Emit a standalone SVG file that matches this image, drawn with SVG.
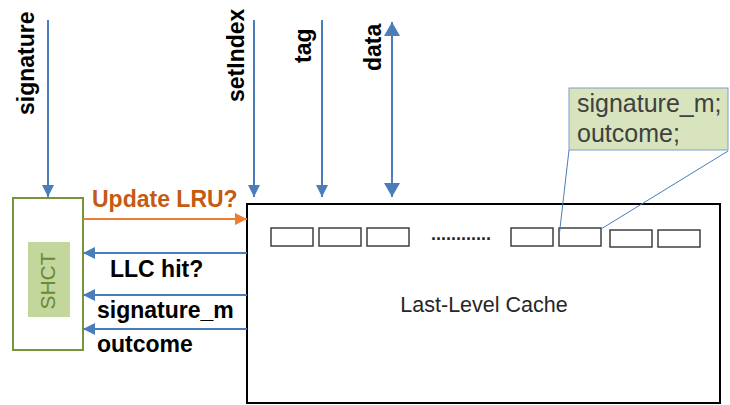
<svg xmlns="http://www.w3.org/2000/svg" width="730" height="405" viewBox="0 0 730 405">
<style>
.lbl{font-family:"Liberation Sans",Arial,sans-serif;font-weight:bold;font-size:23px;fill:#000}
.reg{font-family:"Liberation Sans",Arial,sans-serif;font-size:21.5px;fill:#262626}
.blue{stroke:#4a7ebb;stroke-width:2;fill:none}
.cell{fill:#fff;stroke:#3f3f3f;stroke-width:1.5}
</style>
<defs>
<marker id="ab" markerUnits="userSpaceOnUse" markerWidth="14" markerHeight="14" refX="12" refY="6" orient="auto"><path d="M0,0 L12,6 L0,12 Z" fill="#4a7ebb"/></marker>
<marker id="abig" markerUnits="userSpaceOnUse" markerWidth="16" markerHeight="18" refX="14" refY="8" orient="auto-start-reverse"><path d="M0,0 L14,8 L0,16 Z" fill="#4a7ebb"/></marker>
<marker id="ao" markerUnits="userSpaceOnUse" markerWidth="14" markerHeight="14" refX="12" refY="6" orient="auto"><path d="M0,0 L12,6 L0,12 Z" fill="#ed7d31"/></marker>
</defs>
<rect width="730" height="405" fill="#fff"/>

<g id="shct">
<rect x="13" y="198" width="70" height="152" fill="#fff" stroke="#77933c" stroke-width="2"/>
<rect x="28" y="242" width="42" height="75" fill="#c3d69b"/>
<text transform="translate(55,281) rotate(-90)" text-anchor="middle" style="font-family:'Liberation Sans',Arial,sans-serif;font-size:21px;fill:#6b8a35">SHCT</text>
</g>

<g id="llc">
<rect x="247" y="204" width="473" height="199" fill="#fff" stroke="#000" stroke-width="2"/>
<rect class="cell" x="271" y="228" width="42" height="18"/>
<rect class="cell" x="319" y="228" width="42" height="18"/>
<rect class="cell" x="367" y="228" width="42" height="18"/>
<text x="431" y="240" style="font-family:'Liberation Sans',Arial,sans-serif;font-size:18px;font-weight:bold;fill:#262626">............</text>
<rect class="cell" x="511" y="228" width="42" height="18"/>
<rect class="cell" x="559" y="228" width="42" height="18"/>
<rect class="cell" x="610" y="230" width="42" height="17"/>
<rect class="cell" x="658" y="230" width="42" height="17"/>
<text class="reg" x="484" y="312" text-anchor="middle">Last-Level Cache</text>
</g>

<g id="callout">
<line x1="569" y1="150" x2="559" y2="237" stroke="#4a7ebb" stroke-width="1"/>
<line x1="728" y1="151" x2="601" y2="229" stroke="#4a7ebb" stroke-width="1"/>
<rect x="569" y="88" width="159" height="62" fill="#d7e4bd" stroke="#7f9fc8" stroke-width="1"/>
<text x="577" y="112" style="font-family:'Liberation Sans',Arial,sans-serif;font-size:25px;fill:#404040">signature_m;</text>
<text x="577" y="142" style="font-family:'Liberation Sans',Arial,sans-serif;font-size:25px;fill:#404040">outcome;</text>
</g>

<g id="connectors">
<line class="blue" x1="48" y1="20" x2="48" y2="197" marker-end="url(#ab)"/>
<line class="blue" x1="254" y1="20" x2="254" y2="197" marker-end="url(#ab)"/>
<line class="blue" x1="322" y1="20" x2="322" y2="197" marker-end="url(#ab)"/>
<line class="blue" x1="392" y1="22" x2="392" y2="197" stroke-width="3" marker-start="url(#abig)" marker-end="url(#abig)"/>
<line x1="83" y1="219" x2="247" y2="219" stroke="#ed7d31" stroke-width="2" marker-end="url(#ao)"/>
<line class="blue" x1="247" y1="253" x2="83" y2="253" marker-end="url(#ab)"/>
<line class="blue" x1="247" y1="295" x2="83" y2="295" marker-end="url(#ab)"/>
<line class="blue" x1="247" y1="329" x2="83" y2="329" marker-end="url(#ab)"/>
</g>

<g id="labels">
<text class="lbl" transform="translate(34,115) rotate(-90)">signature</text>
<text class="lbl" transform="translate(244,102) rotate(-90)">setIndex</text>
<text class="lbl" transform="translate(311,63) rotate(-90)">tag</text>
<text class="lbl" transform="translate(381,71) rotate(-90)">data</text>
<text class="lbl" x="92" y="207" style="fill:#c55a11">Update LRU?</text>
<text class="lbl" x="110" y="277">LLC hit?</text>
<text class="lbl" x="97" y="318">signature_m</text>
<text class="lbl" x="97" y="352">outcome</text>
</g>
</svg>
